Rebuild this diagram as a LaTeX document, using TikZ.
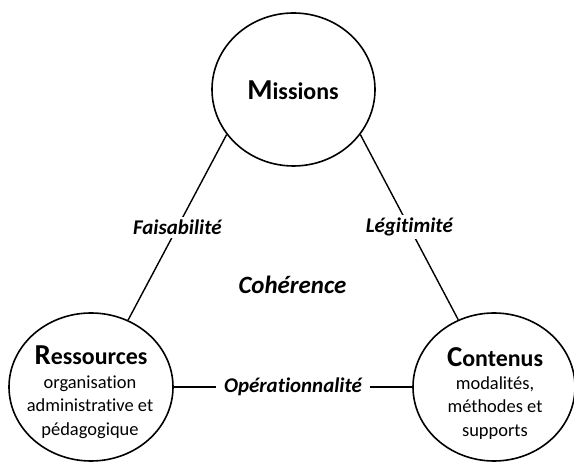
\documentclass[tikz,border=0pt]{standalone}
\usepackage{fontspec}
\setmainfont{Carlito}[Ligatures={NoCommon,NoContextual}]
\usetikzlibrary{shapes.geometric}
\tikzset{
  bubble/.style={draw=black, line width=1.6bp, ellipse, inner sep=0pt},
  link/.style={draw=black, line width=1.4bp},
  linklabel/.style={fill=white, inner sep=3bp, font=\fontsize{21}{25}\selectfont\bfseries\itshape},
  title/.style={font=\fontsize{24}{28}\selectfont\bfseries, inner sep=0pt},
  sub/.style={font=\fontsize{18.5}{23.5}\selectfont, align=center, inner sep=0pt},
}
\newcommand{\bigini}[1]{{\fontsize{29}{30}\selectfont #1}}
\begin{document}
\begin{tikzpicture}[x=1bp,y=1bp]
\useasboundingbox (0,0) rectangle (574,462);
\node[bubble, minimum width=163bp, minimum height=153bp] (mis) at (293.5,372.5) {};
\node[bubble, minimum width=164bp, minimum height=148bp] (res) at (91,75) {};
\node[bubble, minimum width=162bp, minimum height=148bp] (con) at (494,75) {};

\node[title] (mist) at (293,372) {\bigini{M}issions};
\node[title] (rest) at (91,107) {\bigini{R}essources};
\node[sub] (ress) at (90,55) {organisation\\administrative et\\pédagogique};
\node[title] (cont) at (495,105) {\bigini{C}ontenus};
\node[sub] (cons) at (495,54) {modalités,\\méthodes et\\supports};

\node[font=\fontsize{25}{30}\selectfont\bfseries\itshape] (coh) at (292.5,177) {Cohérence};

\path[link] (mis.214.4) -- node[linklabel] (fais) {Faisabilité} (res.61.8);
\path[link] (mis.-34.8) -- node[linklabel] (leg) {Légitimité} (con.118.9);
\path[link] (res.east) -- node[linklabel, inner xsep=8bp] (ope) {Opérationnalité} (con.west);
\end{tikzpicture}
\end{document}
